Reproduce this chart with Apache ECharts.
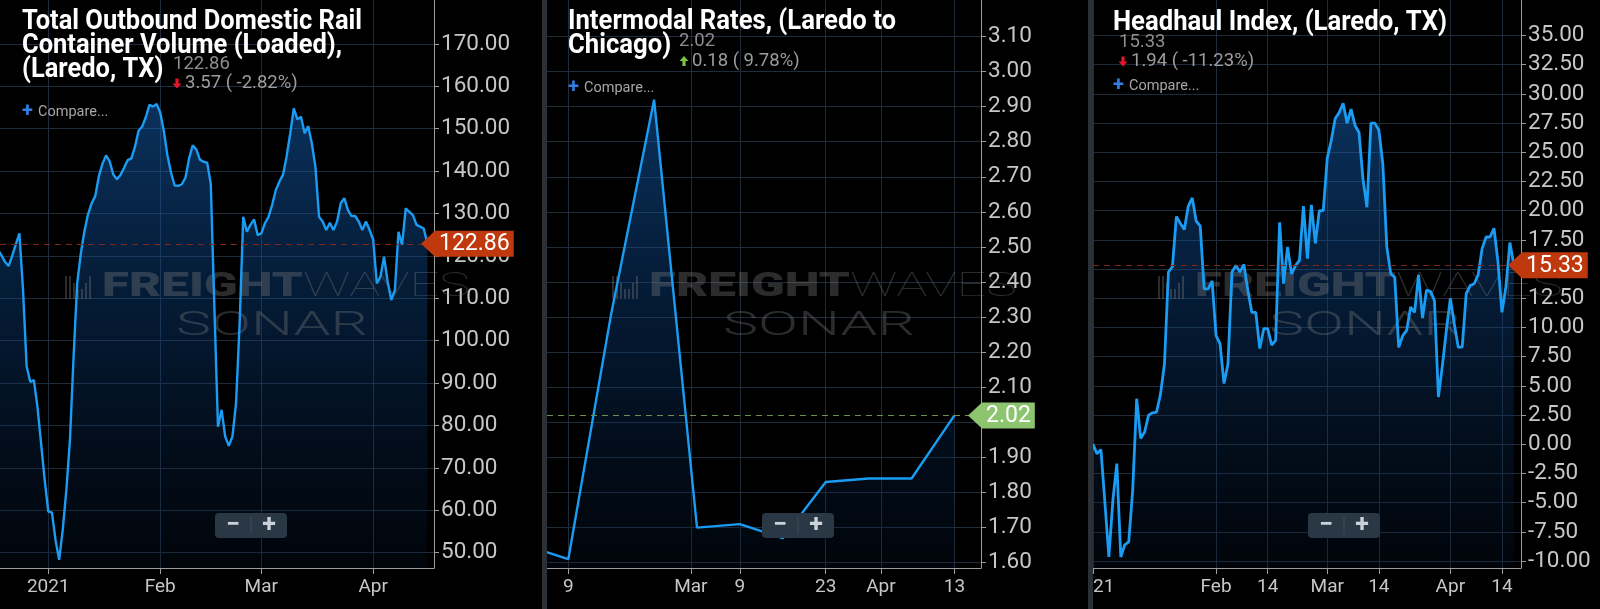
<!DOCTYPE html>
<html><head><meta charset="utf-8">
<script src="https://cdn.jsdelivr.net/npm/echarts@6/dist/echarts.min.js"></script>
<style>
html,body{margin:0;padding:0;background:#000;width:1600px;height:609px;overflow:hidden}
.p{position:absolute;top:0;height:609px;overflow:hidden}
.sep{position:absolute;top:0;height:609px;background:#2b3036}
</style></head><body>
<div id="c1" class="p" style="left:0;width:542px"></div>
<div class="sep" style="left:542px;width:5px"></div>
<div id="c2" class="p" style="left:547px;width:541px"></div>
<div class="sep" style="left:1088px;width:5px"></div>
<div id="c3" class="p" style="left:1093px;width:507px"></div>
<script>
// ---------- DATA ----------
// Panel 1: Total Outbound Domestic Rail Container Volume (Loaded), Laredo TX — daily from 2020-12-18
const railTitle = ['Total Outbound Domestic Rail', 'Container Volume (Loaded),', '(Laredo, TX)'];
const railStart = '2020-12-18';
const railValues = [
  121.5, 120.2, 118.6, 117.6, 120.0, 122.7, 125.3, 112.0, 93.9, 90.3, 90.7, 84.4, 75.8, 67.1,
  59.7, 59.5, 53.0, 48.3, 55.4, 64.8, 76.6, 96.2, 113.5, 120.5, 125.8, 129.8, 132.4, 134.1,
  138.8, 141.7, 143.7, 142.3, 139.2, 138.1, 139.1, 140.8, 142.6, 143.0, 145.7, 149.5, 150.5,
  152.7, 155.6, 155.2, 155.8, 153.8, 149.5, 143.7, 139.6, 136.6, 136.5, 136.9, 138.5, 143.0,
  146.1, 145.1, 142.7, 142.2, 142.0, 137.0, 108.0, 79.7, 83.7, 77.4, 75.2, 77.4, 85.2, 104.1,
  129.2, 125.7, 127.3, 128.6, 124.9, 125.3, 127.7, 129.2, 132.0, 135.5, 137.5, 139.1, 143.4,
  148.8, 154.8, 152.2, 152.8, 148.9, 150.6, 146.5, 141.0, 129.2, 128.1, 126.1, 127.8, 126.1,
  128.1, 132.4, 133.6, 130.8, 129.4, 129.4, 128.1, 126.1, 128.1, 126.1, 123.8, 113.5, 115.1,
  119.8, 113.9, 109.6, 111.9, 125.7, 122.6, 131.2, 130.4, 129.6, 127.3, 126.9, 126.43, 122.86
];
const railTickDates = ['2021-01-01', '2021-02-01', '2021-03-01', '2021-04-01'];
const railTickLabels = ['2021', 'Feb', 'Mar', 'Apr'];
const railYTicks = [50, 60, 70, 80, 90, 100, 110, 120, 130, 140, 150, 160, 170];

// Panel 2: Intermodal Rates, Laredo to Chicago — weekly
const imTitle = ['Intermodal Rates, (Laredo to', 'Chicago)'];
const imDates = ['2021-02-02', '2021-02-09', '2021-02-16', '2021-02-23', '2021-03-02', '2021-03-09',
  '2021-03-16', '2021-03-23', '2021-03-30', '2021-04-06', '2021-04-13'];
const imValues = [1.65, 1.61, 2.31, 2.92, 1.70, 1.71, 1.67, 1.83, 1.84, 1.84, 2.02];
const imTickDates = ['2021-02-09', '2021-03-01', '2021-03-09', '2021-03-23', '2021-04-01', '2021-04-13'];
const imTickLabels = ['9', 'Mar', '9', '23', 'Apr', '13'];
const imYTicks = [1.6, 1.7, 1.8, 1.9, 2.0, 2.1, 2.2, 2.3, 2.4, 2.5, 2.6, 2.7, 2.8, 2.9, 3.0, 3.1];

// Panel 3: Headhaul Index, Laredo TX — daily from 2020-12-31
const hhTitle = ['Headhaul Index, (Laredo, TX)'];
const hhStart = '2020-12-31';
const hhValues = [
  -1.5, 0.0, -0.8, -0.45, -5.0, -9.65, -4.8, -1.65, -9.65, -8.6, -8.35, -3.9, 3.9, 0.5, 1.05,
  2.5, 2.7, 2.75, 4.3, 6.9, 14.75, 15.2, 19.5, 18.9, 18.4, 20.4, 21.1, 19.1, 18.7, 13.3, 13.3,
  14.0, 9.3, 8.6, 5.2, 6.9, 14.75, 15.3, 14.75, 15.4, 13.2, 11.3, 11.3, 8.2, 9.9, 9.9, 8.5, 8.9,
  19.0, 13.75, 16.9, 14.6, 15.3, 15.75, 20.4, 15.9, 20.5, 17.2, 20.0, 20.0, 24.5, 26.0, 27.9,
  28.4, 29.2, 27.5, 28.7, 27.3, 26.7, 22.7, 20.3, 27.5, 27.5, 26.9, 24.0, 16.9, 14.6, 14.3, 8.3,
  9.3, 9.75, 11.75, 11.3, 14.5, 10.8, 13.2, 13.1, 12.3, 4.05, 6.75, 9.75, 12.5, 10.3, 8.3, 8.35,
  12.9, 13.6, 13.75, 14.5, 16.75, 17.75, 17.75, 18.5, 15.6, 11.3, 13.5, 17.27, 15.33
];
const hhTickDates = ['2021-01-01', '2021-02-01', '2021-02-14', '2021-03-01', '2021-03-14', '2021-04-01', '2021-04-14'];
const hhTickLabels = ['2021', 'Feb', '14', 'Mar', '14', 'Apr', '14'];
const hhYTicks = [-10, -7.5, -5, -2.5, 0, 2.5, 5, 7.5, 10, 12.5, 15, 17.5, 20, 22.5, 25, 27.5, 30, 32.5, 35];

// ---------- helpers ----------
const DAY = 864e5;
function ts(s) { const p = s.split('-').map(Number); return new Date(p[0], p[1] - 1, p[2]).getTime(); }
function daily(start, vals) { const p = start.split('-').map(Number); return vals.map((v, i) => [new Date(p[0], p[1] - 1, p[2] + i).getTime(), v]); }
const mctx = document.createElement('canvas').getContext('2d');
function tw(font, text) { mctx.font = font; return mctx.measureText(text).width; }

const panels = [
  { el: 'c1', width: 542, axisX: 434, title: railTitle, titleW: 340, titleX: 22, titleY: 10, lw: 2.4,
    data: daily(railStart, railValues), xMin: ts('2020-12-18') + 0.62 * DAY, xMax: ts('2021-04-17') + 0.84 * DAY,
    yMin: 46.39, yMax: 180.35, yTicks: railYTicks, xTickDates: railTickDates, xTickLabels: railTickLabels,
    stat: { vx: 173, vy: 64, ax: 177, ay: 83.5, cx: 185 }, cmpY: 111.5 },
  { el: 'c2', width: 541, axisX: 434, title: imTitle, titleW: 328, titleX: 21, titleY: 10.5, lw: 2.4,
    data: imDates.map((d, i) => [ts(d), imValues[i]]), xMin: ts('2021-02-09') - 3.475 * DAY, xMax: ts('2021-02-09') + (434 - 21.3) / 6.129 * DAY,
    yMin: 1.585, yMax: 3.204, yTicks: imYTicks, xTickDates: imTickDates, xTickLabels: imTickLabels,
    stat: { vx: 132, vy: 41.5, ax: 137, ay: 61, cx: 145 }, cmpY: 88 },
  { el: 'c3', width: 507, axisX: 428, title: hhTitle, titleW: 334, titleX: 20, titleY: 11.5, lw: 2.8,
    data: daily(hhStart, hhValues), xMin: ts('2021-01-01'), xMax: ts('2021-01-01') + 107.8 * DAY,
    yMin: -10.59, yMax: 38.04, yTicks: hhYTicks, xTickDates: hhTickDates, xTickLabels: hhTickLabels,
    stat: { vx: 26, vy: 42, ax: 30, ay: 61.5, cx: 38 }, cmpY: 86 }
];

const GRID = '#202c39', AXIS = '#9c9c9c', LABEL = '#c6c6c6', LINE = '#1a9cf3';
const WM = 'rgba(128,128,128,0.34)';

panels.forEach(p => {
  const chart = echarts.init(document.getElementById(p.el), null, { renderer: 'canvas', width: p.width, height: 609 });
  const xt = p.xTickDates.map(ts);
  const vals = p.data.map(d => d[1]);
  const last = vals[vals.length - 1], prev = vals[vals.length - 2];
  const ch = last - prev, pct = ch / prev * 100;
  const up = ch >= 0;
  const badgeColor = up ? '#8dc46f' : '#c0380e';
  const dashColor = up ? '#6f8f52' : '#7e2817';

  const option = {
    animation: false,
    backgroundColor: '#000',
    grid: { left: 0, top: 0, right: p.width - p.axisX, bottom: 41, containLabel: false, outerBoundsMode: 'none' },
    xAxis: {
      type: 'value', min: p.xMin, max: p.xMax,
      axisLine: { show: true, onZero: false, lineStyle: { color: AXIS, width: 1 } },
      axisTick: { show: true, length: 6, customValues: xt, lineStyle: { color: AXIS } },
      axisLabel: { customValues: xt, formatter: v => { const i = xt.indexOf(v); return i >= 0 ? p.xTickLabels[i] : ''; },
        color: LABEL, fontSize: 19, fontFamily: 'Roboto', margin: 10 },
      splitLine: { show: true, lineStyle: { color: GRID, width: 1 } }
    },
    yAxis: {
      type: 'value', position: 'right', min: p.yMin, max: p.yMax,
      axisLine: { show: true, onZero: false, lineStyle: { color: AXIS, width: 1 } },
      axisTick: { show: true, length: 5, customValues: p.yTicks, lineStyle: { color: AXIS } },
      axisLabel: { customValues: p.yTicks, formatter: v => v.toFixed(2), color: LABEL, fontSize: 22.5, fontFamily: 'Roboto', margin: 7 },
      splitLine: { show: true, lineStyle: { color: GRID, width: 1 } }
    },
    series: [
      { type: 'line', data: p.data, showSymbol: false, silent: true, z: 1, lineStyle: { width: 0 },
        areaStyle: { origin: 'start', color: new echarts.graphic.LinearGradient(0, 0, 0, 1, [
          { offset: 0, color: 'rgba(20,100,188,0.70)' }, { offset: 0.55, color: 'rgba(10,64,128,0.48)' }, { offset: 1, color: 'rgba(4,26,56,0.28)' }]) } },
      { type: 'line', data: p.data, showSymbol: false, silent: true, z: 3, lineStyle: { color: LINE, width: p.lw },
        markLine: { silent: true, symbol: ['none', 'none'], label: { show: false }, animation: false,
          lineStyle: { type: [6, 5], color: dashColor, width: 1 }, data: [{ yAxis: last }] } }
    ]
  };
  chart.setOption(option);

  const els = [];
  const tFont = 'bold 27px Roboto';
  const sx = p.titleW / tw(tFont, p.title[0]);
  els.push({ type: 'text', x: p.titleX, y: p.titleY, scaleX: sx, z: 20,
    style: { text: p.title.join('\n'), font: tFont, fill: '#ffffff', lineHeight: 24, verticalAlign: 'top', align: 'left' } });
  const sFont = '18.5px Roboto';
  els.push({ type: 'text', x: p.stat.vx, y: p.stat.vy, z: 20, style: { text: last.toFixed(2), font: sFont, fill: '#8e8e8e', verticalAlign: 'middle' } });
  const ax = p.stat.ax, ay = p.stat.ay;
  const arrowPts = up
    ? [[ax - 1.6, ay + 5], [ax + 1.6, ay + 5], [ax + 1.6, ay], [ax + 4.5, ay], [ax, ay - 5], [ax - 4.5, ay], [ax - 1.6, ay]]
    : [[ax - 1.6, ay - 5], [ax + 1.6, ay - 5], [ax + 1.6, ay], [ax + 4.5, ay], [ax, ay + 5], [ax - 4.5, ay], [ax - 1.6, ay]];
  els.push({ type: 'polygon', z: 20, shape: { points: arrowPts }, style: { fill: up ? '#7cc242' : '#e5172d' } });
  els.push({ type: 'text', x: p.stat.cx, y: p.stat.ay, z: 20,
    style: { text: Math.abs(ch).toFixed(2) + ' ( ' + (pct < 0 ? '-' : '') + Math.abs(pct).toFixed(2) + '%)', font: sFont, fill: '#9c9c9c', verticalAlign: 'middle' } });
  els.push({ type: 'text', x: p.titleX, y: p.cmpY, z: 20, style: { text: '+', font: 'bold 20px Roboto', fill: '#2f7fe6', verticalAlign: 'middle' } });
  els.push({ type: 'text', x: p.titleX + 16, y: p.cmpY + 0.5, z: 20, style: { text: 'Compare...', font: '14.5px Roboto', fill: '#a6a6a6', verticalAlign: 'middle' } });
  const bh = [23, 23, 16, 10, 10, 16, 23];
  bh.forEach((h, i) => els.push({ type: 'rect', z: 2, shape: { x: 65 + i * 4, y: 299 - h, width: 2, height: h }, style: { fill: WM } }));
  const f1 = '900 33px Roboto', f2 = '100 33px Roboto', f3 = '300 34px Roboto';
  els.push({ type: 'text', x: 102, y: 288, scaleX: 201 / tw(f1, 'FREIGHT'), z: 2, style: { text: 'FREIGHT', font: f1, fill: WM, verticalAlign: 'middle' } });
  els.push({ type: 'text', x: 303, y: 288, scaleX: 167 / tw(f2, 'WAVES'), z: 2, style: { text: 'WAVES', font: f2, fill: WM, verticalAlign: 'middle' } });
  els.push({ type: 'text', x: 176, y: 326, scaleX: 192 / tw(f3, 'SONAR'), z: 2, style: { text: 'SONAR', font: f3, fill: WM, verticalAlign: 'middle' } });
  els.push({ type: 'rect', z: 20, shape: { x: 215, y: 513, width: 72, height: 25, r: 4 }, style: { fill: '#2a3744' } });
  els.push({ type: 'line', z: 21, shape: { x1: 251, y1: 517, x2: 251, y2: 534 }, style: { stroke: '#3e4c5a', lineWidth: 1 } });
  els.push({ type: 'text', x: 233, y: 525.5, z: 21, style: { text: '\u2212', font: 'bold 25px Roboto', fill: '#c9d1d9', align: 'center', verticalAlign: 'middle' } });
  els.push({ type: 'text', x: 269, y: 525.5, z: 21, style: { text: '+', font: 'bold 25px Roboto', fill: '#c9d1d9', align: 'center', verticalAlign: 'middle' } });
  const yPix = chart.convertToPixel({ yAxisIndex: 0 }, last);
  const bFont = '23px Roboto';
  const txt = last.toFixed(2);
  const bw = tw(bFont, txt) + 8;
  const A = p.axisX, h2 = 13;
  els.push({ type: 'polygon', z: 30, shape: { points: [[A - 13, yPix], [A + 1, yPix - h2], [A + 1 + bw, yPix - h2], [A + 1 + bw, yPix + h2], [A + 1, yPix + h2]] }, style: { fill: badgeColor } });
  els.push({ type: 'text', x: A + 1 + bw / 2, y: yPix + 0.5, z: 31, style: { text: txt, font: bFont, fill: '#ffffff', align: 'center', verticalAlign: 'middle' } });

  chart.setOption({ graphic: { elements: els } });
});
</script>
</body></html>
